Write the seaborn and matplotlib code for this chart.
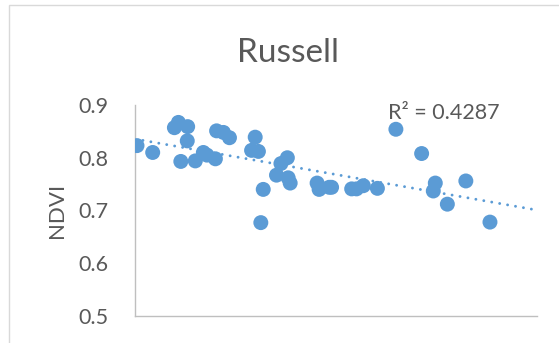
import numpy as np
import pandas as pd
import seaborn as sns
import matplotlib.pyplot as plt
from matplotlib.patches import Rectangle

# Observation position along the transect and measured NDVI
position = [0.5, 4.4, 10.8, 9.8, 13.1, 13.0, 11.4, 15.0, 17.0, 17.9,
            20.0, 20.3, 22.0, 23.5, 29.9, 29.0, 30.7, 31.9, 31.3, 37.9,
            36.3, 35.2, 38.1, 38.6, 45.3, 45.8, 48.3, 48.9, 53.9, 55.1,
            56.8, 60.3, 64.9, 71.3, 74.7, 74.2, 77.7, 82.3, 88.3]
ndvi = [0.823, 0.810, 0.867, 0.857, 0.859, 0.832, 0.793, 0.794, 0.810, 0.805,
        0.798, 0.851, 0.848, 0.838, 0.839, 0.814, 0.812, 0.740, 0.677, 0.800,
        0.789, 0.767, 0.762, 0.752, 0.752, 0.740, 0.744, 0.744, 0.741, 0.741,
        0.747, 0.742, 0.854, 0.808, 0.752, 0.737, 0.712, 0.756, 0.678]
y_ticks = [0.5, 0.6, 0.7, 0.8, 0.9]
r2_label = "R² = 0.4287"
title = "Russell"

df = pd.DataFrame({"position": position, "NDVI": ndvi})

sns.set_theme(style="white")
plt.rcParams["font.family"] = ["Lato", "DejaVu Sans"]

blue = "#5b9bd5"
grey_text = "#595959"
grey_line = "#d9d9d9"

fig = plt.figure(figsize=(5.59, 3.43), dpi=100)
ax = fig.add_axes([135 / 559, 1 - 316 / 343, (537 - 135) / 559, (316 - 105) / 343])

ax.set_xlim(0, 100)
ax.set_ylim(0.5, 0.9)

sns.scatterplot(data=df, x="position", y="NDVI", ax=ax, color=blue,
                s=116, edgecolor="none", linewidth=0, zorder=3)

# Linear trend across the full axis width, drawn as round dots
sns.regplot(data=df, x="position", y="NDVI", ax=ax, scatter=False, ci=None,
            truncate=False, color=blue,
            line_kws=dict(linewidth=2.1, linestyle=(0, (0.01, 2.75)),
                          dash_capstyle="round", zorder=2))

ax.set_xlim(0, 100)
ax.set_ylim(0.5, 0.9)
ax.set_yticks(y_ticks)
ax.set_yticklabels([f"{v:.1f}" for v in y_ticks], color=grey_text, fontsize=15.5)
ax.set_xticks([])
ax.set_xlabel("")
ax.set_ylabel("NDVI", color=grey_text, fontsize=16, labelpad=8)
ax.tick_params(axis="y", length=0, pad=19)

for side in ["top", "right"]:
    ax.spines[side].set_visible(False)
for side in ["left", "bottom"]:
    ax.spines[side].set_color("#bfbfbf")
    ax.spines[side].set_linewidth(1.0)

fig.text(288 / 559, 1 - 53 / 343, title, ha="center", va="center",
         color=grey_text, fontsize=24)
fig.text(388 / 559, 1 - 113 / 343, r2_label, ha="left", va="center",
         color=grey_text, fontsize=15.5)

# Chart area frame
fig.patches.append(Rectangle((9 / 559, -0.1), 1.2, 1 - 5 / 343 + 0.1,
                             transform=fig.transFigure, fill=False,
                             edgecolor=grey_line, linewidth=1.0))

fig.savefig("out.png", dpi=100)
